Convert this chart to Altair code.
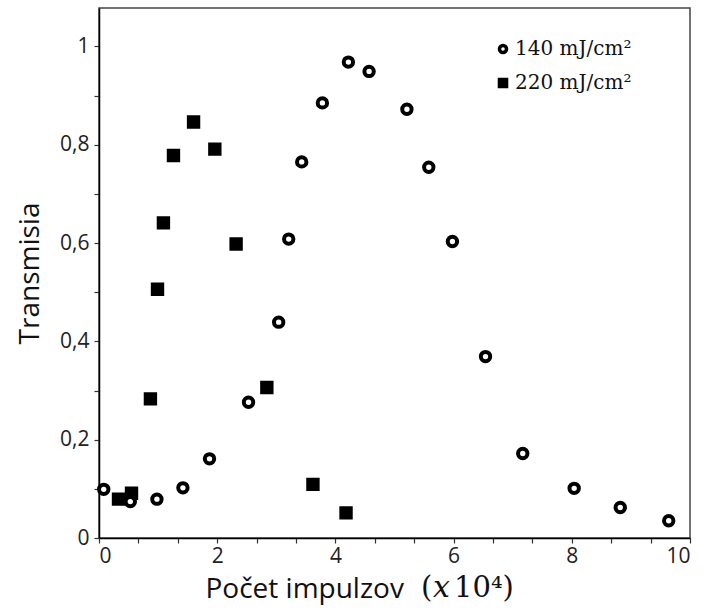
import altair as alt
import pandas as pd

# 140 mJ/cm2 series (open circles)
x140 = [0.08, 0.53, 0.98, 1.42, 1.87, 2.53, 3.04, 3.21, 3.43, 3.78, 4.22, 4.57,
        5.21, 5.58, 5.98, 6.54, 7.17, 8.04, 8.82, 9.64]
y140 = [0.099, 0.074, 0.079, 0.102, 0.161, 0.276, 0.439, 0.608, 0.765, 0.885, 0.968, 0.949,
        0.872, 0.754, 0.603, 0.369, 0.172, 0.101, 0.062, 0.035]

# 220 mJ/cm2 series (filled squares)
x220 = [0.33, 0.55, 0.87, 0.99, 1.09, 1.26, 1.60, 1.96, 2.32, 2.84, 3.62, 4.18]
y220 = [0.079, 0.091, 0.283, 0.506, 0.641, 0.778, 0.846, 0.791, 0.598, 0.306, 0.109, 0.051]

series_names = ["140 mJ/cm²", "220 mJ/cm²"]

y_ticks = [round(i * 0.1, 1) for i in range(11)]
x_ticks = [round(k * 2 / 3, 4) for k in range(16)]

df = pd.concat([
    pd.DataFrame({"x": x220, "y": y220, "series": series_names[1]}),
    pd.DataFrame({"x": x140, "y": y140, "series": series_names[0]}),
], ignore_index=True)

leg = alt.Legend(title=None, orient="none", legendX=394, legendY=31)

points = alt.Chart(df).mark_point(
    size=88, strokeWidth=4, opacity=1, filled=False
).encode(
    x=alt.X("x:Q", scale=alt.Scale(domain=[0, 10], nice=False, zero=False),
            axis=alt.Axis(values=x_ticks, title="Počet impulzov",
                          labelExpr="abs(datum.value - round(datum.value)) < 0.01 && round(datum.value) % 2 == 0 ? toString(round(datum.value)) : ''",
                          titleAlign="left", titleAnchor="start", titleX=106, titleY=59,
                          titleBaseline="alphabetic", labelPadding=2)),
    y=alt.Y("y:Q", scale=alt.Scale(domain=[0, 1.078], nice=False, zero=False),
            axis=alt.Axis(values=y_ticks, title="Transmisia",
                          labelExpr="round(datum.value * 10) % 2 == 0 ? replace(toString(datum.value), '.', ',') : ''",
                          titleX=-69, titleBaseline="middle", labelPadding=5)),
    shape=alt.Shape("series:N", scale=alt.Scale(domain=series_names, range=["circle", "square"]),
                    legend=leg),
    fill=alt.Fill("series:N", scale=alt.Scale(domain=series_names, range=["white", "black"]),
                  legend=leg),
    stroke=alt.Stroke("series:N", scale=alt.Scale(domain=series_names, range=["black", "black"]),
                      legend=leg),
)

paren_open = alt.Chart(pd.DataFrame({"t": ["("]})).mark_text(
    font="DejaVu Serif", fontSize=29, align="left", baseline="alphabetic", color="#111"
).encode(text="t:N", x=alt.value(322), y=alt.value(589))

x_ital = alt.Chart(pd.DataFrame({"t": ["x"]})).mark_text(
    font="DejaVu Serif", fontSize=30, fontStyle="italic", align="left", baseline="alphabetic", color="#111"
).encode(text="t:N", x=alt.value(334), y=alt.value(589))

rest = alt.Chart(pd.DataFrame({"t": ["10⁴)"]})).mark_text(
    font="DejaVu Serif", fontSize=29, align="left", baseline="alphabetic", color="#111"
).encode(text="t:N", x=alt.value(355), y=alt.value(589))

chart = alt.layer(points, paren_open, x_ital, rest).properties(
    width=591, height=530,
    padding={"left": 99, "top": 8, "right": 20, "bottom": 72},
    autosize=alt.AutoSizeParams(type="none"),
).configure_view(
    stroke="#444", strokeWidth=1.5
).configure_axis(
    grid=False, tickSize=5, tickColor="#333", tickWidth=1.2,
    domainColor="#000", domainWidth=1.5,
    labelFont="Open Sans", labelFontSize=21, labelColor="#222",
    titleFont="Open Sans", titleFontSize=28, titleFontWeight="normal", titleColor="#111",
).configure_legend(
    labelFont="DejaVu Serif", labelFontSize=20, labelColor="#111",
    symbolSize=50, symbolStrokeWidth=3.5,
    padding=0, rowPadding=12, labelOffset=2,
)

chart.save("out.html", embed_options={"renderer": "svg", "actions": False})
